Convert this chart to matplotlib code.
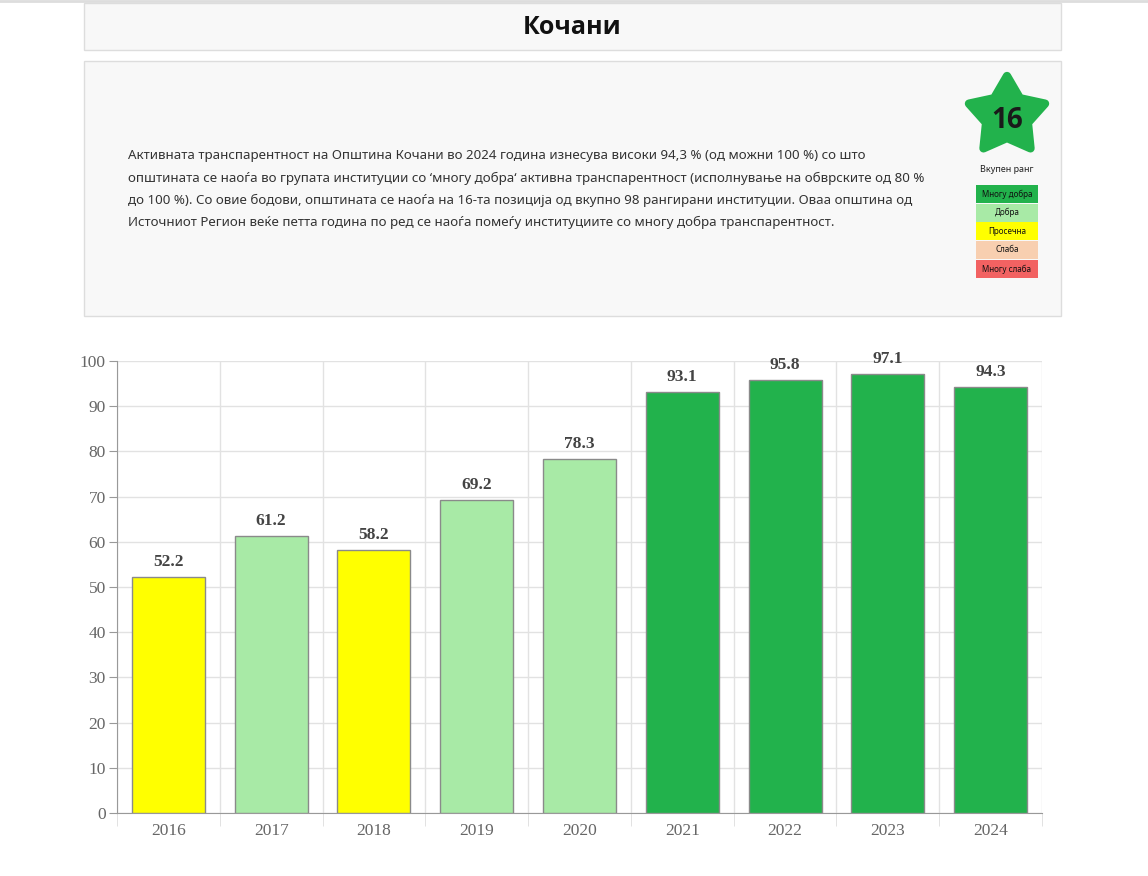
import matplotlib
matplotlib.use("Agg")
import matplotlib.pyplot as plt
import numpy as np
from matplotlib.patches import Rectangle, Polygon

years = ["2016", "2017", "2018", "2019", "2020", "2021", "2022", "2023", "2024"]
scores = [52.2, 61.2, 58.2, 69.2, 78.3, 93.1, 95.8, 97.1, 94.3]
categories = ["Просечна", "Добра", "Просечна", "Добра", "Добра",
              "Многу добра", "Многу добра", "Многу добра", "Многу добра"]
legend_labels = ["Многу добра", "Добра", "Просечна", "Слаба", "Многу слаба"]
legend_colors = ["#22b24c", "#a8eaa6", "#ffff00", "#f8cfb0", "#f26262"]
cat_color = dict(zip(legend_labels, legend_colors))
yticks = list(range(0, 101, 10))

title = "Кочани"
rank = "16"
rank_label = "Вкупен ранг"
paragraph = [
    "Активната транспарентност на Општина Кочани во 2024 година изнесува високи 94,3 % (од можни 100 %) со што",
    "општината се наоѓа во групата институции со ‘многу добра‘ активна транспарентност (исполнување на обврските од 80 %",
    "до 100 %). Со овие бодови, општината се наоѓа на 16-та позиција од вкупно 98 рангирани институции. Оваа општина од",
    "Источниот Регион веќе петта година по ред се наоѓа помеѓу институциите со многу добра транспарентност.",
]

W, H = 1148, 876
fig = plt.figure(figsize=(W / 100, H / 100), dpi=100)
fig.patch.set_facecolor("white")

ov = fig.add_axes([0, 0, 1, 1])
ov.set_xlim(0, W)
ov.set_ylim(H, 0)
ov.axis("off")

ov.plot([0, W], [1, 1], color="#dddddd", lw=2)
ov.add_patch(Rectangle((83.5, 3), 977, 47, facecolor="#f8f8f8", edgecolor="#dddddd", lw=1))
ov.text(572, 27, title, ha="center", va="center", fontsize=18, fontweight="bold",
        family=["Open Sans", "DejaVu Sans"], color="#111111")

ov.add_patch(Rectangle((83.5, 60.5), 977, 255, facecolor="#f8f8f8", edgecolor="#dddddd", lw=1))
for i, line in enumerate(paragraph):
    ov.text(128, 156 + i * 22.3, line, ha="left", va="center", fontsize=9.6,
            family=["Noto Sans", "DejaVu Sans"], color="#333333")

# star
cx, cy, R, r = 1007, 116, 40, 22
pts = []
for k in range(10):
    ang = np.pi / 2 + k * np.pi / 5
    rad = R if k % 2 == 0 else r
    pts.append((cx + rad * np.cos(ang), cy - rad * np.sin(ang)))
ov.add_patch(Polygon(pts, closed=True, facecolor="#22b24c", edgecolor="#22b24c",
                     lw=6, joinstyle="round"))
ov.text(cx, 121, rank, ha="center", va="center", fontsize=20, fontweight="bold",
        family=["Open Sans", "DejaVu Sans"], color="#1a1a1a")
ov.text(cx, 170, rank_label, ha="center", va="center", fontsize=6.5,
        family=["Noto Sans", "DejaVu Sans"], color="#222222")
ys = [185, 203.5, 222, 240.5, 260]
for y0, lab, col in zip(ys, legend_labels, legend_colors):
    ov.add_patch(Rectangle((976, y0), 62, 18, facecolor=col, edgecolor="none"))
    ov.text(1007, y0 + 9, lab, ha="center", va="center", fontsize=5.8,
            family=["Noto Sans", "DejaVu Sans"], color="#111111")

# bar chart
ax = fig.add_axes([117 / W, 1 - 813 / H, (1042 - 117) / W, (813 - 361) / H])
x = np.arange(len(years))
colors = [cat_color[c] for c in categories]
ax.bar(x, scores, width=0.71, color=colors, edgecolor="#8a8a8a", linewidth=1, zorder=3)
for xi, v in zip(x, scores):
    ax.text(xi, v + 1.6, f"{v:.1f}", ha="center", va="bottom", fontsize=12.5, fontweight="bold",
            family="Liberation Serif", color="#444444", zorder=4)
ax.set_xlim(-0.5, len(years) - 0.5)
ax.set_ylim(0, 100)
ax.set_yticks(yticks)
ax.set_yticklabels([str(t) for t in yticks], family="Liberation Serif", fontsize=12.5, color="#666666")
ax.set_xticks(x)
ax.set_xticklabels(years, family="Liberation Serif", fontsize=12.5, color="#666666")
ax.tick_params(axis="x", length=0, pad=7)
ax.tick_params(axis="y", length=6, color="#999999", pad=2)
ax.set_xticks(np.arange(-0.5, len(years), 1), minor=True)
ax.tick_params(axis="x", which="minor", length=9, color="#dddddd")
ax.grid(axis="y", color="#e2e2e2", lw=1, zorder=0)
ax.grid(axis="x", which="minor", color="#e2e2e2", lw=1, zorder=0)
ax.grid(axis="x", which="major", visible=False)
for s in ["top", "right"]:
    ax.spines[s].set_visible(False)
for s in ["left", "bottom"]:
    ax.spines[s].set_color("#999999")
ax.set_facecolor("white")

fig.savefig("out.png", dpi=100)
